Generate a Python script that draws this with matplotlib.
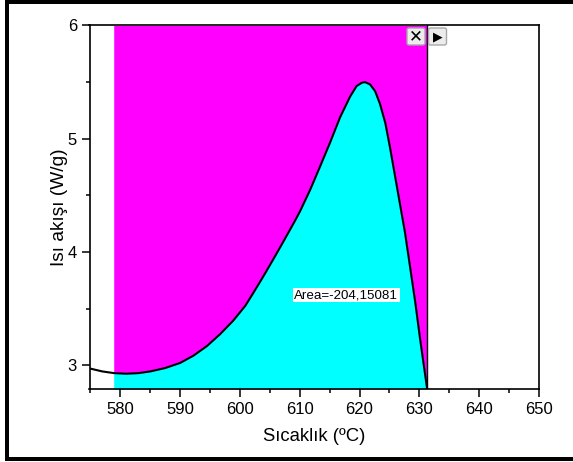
import numpy as np
import matplotlib
matplotlib.use('Agg')
import matplotlib.pyplot as plt
from matplotlib.patches import Rectangle, FancyBboxPatch

plt.rcParams['font.family'] = ['Liberation Sans', 'DejaVu Sans']

# curve
temp = [575, 577, 579, 581, 583, 585, 587.5, 590.0, 592.25, 594.5, 596.7, 598.9, 600.9,
        602.55, 604.2, 605.9, 607.3, 609.2, 610.1, 611.75, 613.4, 615.1, 616.75, 618.4,
        619.5, 620.4, 620.9, 621.75, 622.6, 623.4, 624.3, 625.1, 625.9, 626.8, 627.6,
        628.55, 629.3, 630.1, 631.3]
heat = [2.97, 2.945, 2.93, 2.925, 2.93, 2.945, 2.975, 3.02, 3.085, 3.17, 3.275, 3.395, 3.525,
        3.665, 3.81, 3.965, 4.095, 4.275, 4.365, 4.55, 4.755, 4.97, 5.19, 5.37,
        5.465, 5.495, 5.50, 5.48, 5.42, 5.31, 5.14, 4.92, 4.68, 4.41, 4.17,
        3.83, 3.56, 3.24, 2.79]
area_start = 578.9
area_end = 631.3
area_label = 'Area=-204,15081'

W, H = 573, 462
fig = plt.figure(figsize=(W / 100, H / 100), dpi=100)
ax = fig.add_axes([89.5 / W, 1 - 389 / H, 449.5 / W, 363.5 / H])

temp = np.array(temp)
heat = np.array(heat)
mask = (temp >= 579) & (temp <= area_end)
ymax = 6
ymin = 2.79

# close the fill on the left edge of the integration range
fill_x = np.r_[area_start, temp[mask]]
fill_y = np.r_[heat[mask][0], heat[mask]]
ax.fill_between(fill_x, fill_y, ymax, color='#ff00ff', lw=0, zorder=1)
ax.fill_between(fill_x, ymin, fill_y, color='#00ffff', lw=0, zorder=1)
ax.plot([area_end, area_end], [ymin, ymax], color='black', lw=1, zorder=2)
ax.plot(temp, heat, color='black', lw=1.5, solid_joinstyle='round', zorder=3)

ax.set_xlim(574.85, 650)
ax.set_ylim(ymin, ymax)
ax.set_xticks(range(580, 651, 10))
ax.set_xticks(range(575, 651, 10), minor=True)
ax.set_yticks([3, 4, 5, 6])
ax.set_yticks([3.5, 4.5, 5.5], minor=True)
ax.tick_params(which='major', length=6, width=1.1, labelsize=12, pad=3)
ax.tick_params(which='minor', length=3, width=1.1)
for s in ax.spines.values():
    s.set_linewidth(1.2)

ax.set_xlabel('Sıcaklık (ºC)', fontsize=13.3, labelpad=8)
ax.set_ylabel('Isı akışı (W/g)', fontsize=13.8, labelpad=0)

ax.text(609.1, 3.62, area_label, fontsize=9.6, ha='left', va='center', zorder=5,
        bbox=dict(facecolor='white', edgecolor='none', pad=1))

# outer frame, open on the right like the screenshot
for x, y, w, h in [(5, 0, 568, 4), (5, 0, 4, 461), (5, 457, 568, 4)]:
    fig.add_artist(Rectangle((x / W, 1 - (y + h) / H), w / W, h / H, transform=fig.transFigure,
                             facecolor='black', edgecolor='none'))

# the two small buttons on top of the plot
for x, y in [(407, 28), (428.5, 28)]:
    fig.add_artist(FancyBboxPatch((x / W, 1 - (y + 17) / H), 18 / W, 17 / H, transform=fig.transFigure,
                                  boxstyle='round,pad=0,rounding_size=0.004', facecolor='#ececec',
                                  edgecolor='#a8a8a8', lw=1, zorder=6))
fig.text(416 / W, 1 - 36.5 / H, '✕', family='DejaVu Sans', fontsize=12, fontweight='bold',
         ha='center', va='center', color='black', zorder=7)
fig.text(437.5 / W, 1 - 36.5 / H, '▶', family='DejaVu Sans', fontsize=9,
         ha='center', va='center', color='black', zorder=7)

fig.savefig('out.png', dpi=100)
